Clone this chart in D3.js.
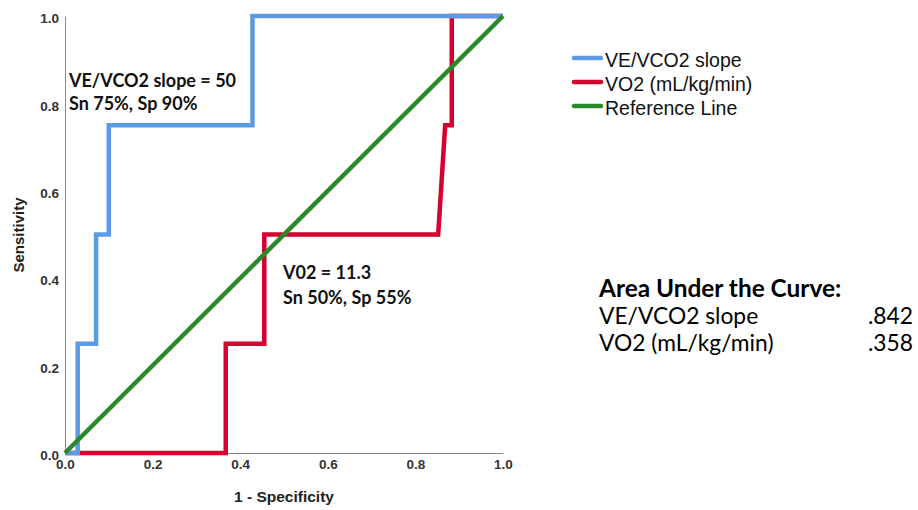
<!DOCTYPE html>
<html><head><meta charset="utf-8">
<script src="https://cdn.jsdelivr.net/npm/d3@7"></script>
<style>body{margin:0;background:#fff}svg{display:block}</style>
</head><body>
<svg id="c" width="918" height="510"></svg>
<script>
// ROC curve points (1 - Specificity, Sensitivity)
const veFpr = [0, 0.029, 0.029, 0.071, 0.071, 0.100, 0.100, 0.428, 0.428, 1.0];
const veTpr = [0, 0, 0.25, 0.25, 0.50, 0.50, 0.75, 0.75, 1.0, 1.0];
const vo2Fpr = [0, 0.367, 0.367, 0.455, 0.455, 0.852, 0.868, 0.883, 0.883, 1.0];
const vo2Tpr = [0, 0, 0.25, 0.25, 0.50, 0.50, 0.75, 0.75, 1.0, 1.0];
const refFpr = [0, 1];
const refTpr = [0, 1];
const xTicks = [0, 0.2, 0.4, 0.6, 0.8, 1.0];
const yTicks = [0, 0.2, 0.4, 0.6, 0.8, 1.0];
const seriesNames = ["VE/VCO2 slope", "VO2 (mL/kg/min)", "Reference Line"];
const seriesColors = ["#5b9be4", "#d5002f", "#2a8a2a"];
const aucNames = ["VE/VCO2 slope", "VO2 (mL/kg/min)"];
const aucValues = [".842", ".358"];

const svg = d3.select("#c");
const x = d3.scaleLinear().domain([0, 1]).range([65, 503]);
const y = d3.scaleLinear().domain([0, 1]).range([453, 16]);

// axes
const xAxis = svg.append("g").attr("transform", "translate(0,453)")
  .call(d3.axisBottom(x).tickValues(xTicks).tickFormat(d3.format(".1f")).tickSize(0).tickPadding(10));
const yAxis = svg.append("g").attr("transform", "translate(65,0)")
  .call(d3.axisLeft(y).tickValues(yTicks).tickFormat(d3.format(".1f")).tickSize(0).tickPadding(6));
[xAxis, yAxis].forEach(a => {
  a.select(".domain").attr("stroke", "#8a8a8a").attr("stroke-width", 1);
  a.selectAll("text").attr("font-family", "Liberation Sans, Arial, sans-serif")
    .attr("font-weight", "bold").attr("font-size", 13.5).attr("fill", "#333");
});
xAxis.selectAll("text").attr("dy", "0.45em");
yAxis.selectAll("text").attr("dy", "0.5em");

svg.append("text").attr("x", 284).attr("y", 502).attr("text-anchor", "middle")
  .attr("font-family", "Liberation Sans, Arial, sans-serif").attr("font-weight", "bold")
  .attr("font-size", 15.5).attr("fill", "#222").text("1 - Specificity");
svg.append("text").attr("transform", "translate(24,235) rotate(-90)").attr("text-anchor", "middle")
  .attr("font-family", "Liberation Sans, Arial, sans-serif").attr("font-weight", "bold")
  .attr("font-size", 15).attr("fill", "#222").text("Sensitivity");

const line = d3.line().x(d => x(d[0])).y(d => y(d[1]));
const series = [
  d3.zip(veFpr, veTpr),
  d3.zip(vo2Fpr, vo2Tpr),
  d3.zip(refFpr, refTpr)
];
// draw red first, then blue, then green on top
[1, 0, 2].forEach(i => {
  svg.append("path").datum(series[i]).attr("d", line).attr("fill", "none")
    .attr("stroke", seriesColors[i]).attr("stroke-width", 4.5)
    .attr("stroke-linejoin", "miter").attr("stroke-linecap", "butt");
});

// annotations
const ann = svg.append("g").attr("font-family", "Lato, sans-serif").attr("font-weight", "bold")
  .attr("font-size", 18).attr("fill", "#111");
ann.append("text").attr("x", 69).attr("y", 87).text("VE/VCO2 slope = 50");
ann.append("text").attr("x", 69).attr("y", 110).text("Sn 75%, Sp 90%");
ann.append("text").attr("x", 283).attr("y", 279).text("V02 = 11.3");
ann.append("text").attr("x", 283).attr("y", 304).text("Sn 50%, Sp 55%");

// legend
const lg = svg.append("g");
seriesNames.forEach((n, i) => {
  const yy = 58 + i * 24;
  lg.append("line").attr("x1", 574).attr("x2", 601).attr("y1", yy).attr("y2", yy)
    .attr("stroke", seriesColors[i]).attr("stroke-width", 4.5).attr("stroke-linecap", "round");
  lg.append("text").attr("x", 605).attr("y", yy + 9)
    .attr("font-family", "Liberation Sans, Arial, sans-serif").attr("font-size", 19.5)
    .attr("fill", "#111").text(n);
});

// AUC table
const t = svg.append("g").attr("font-family", "Lato, sans-serif").attr("fill", "#000");
t.append("text").attr("x", 599).attr("y", 297).attr("font-weight", "bold").attr("font-size", 24.4)
  .text("Area Under the Curve:");
aucNames.forEach((n, i) => {
  t.append("text").attr("x", 599).attr("y", 324 + i * 27).attr("font-size", 22.8).text(n);
  t.append("text").attr("x", 913).attr("y", 324 + i * 27).attr("font-size", 22.8)
    .attr("text-anchor", "end").text(aucValues[i]);
});
</script>
</body></html>
